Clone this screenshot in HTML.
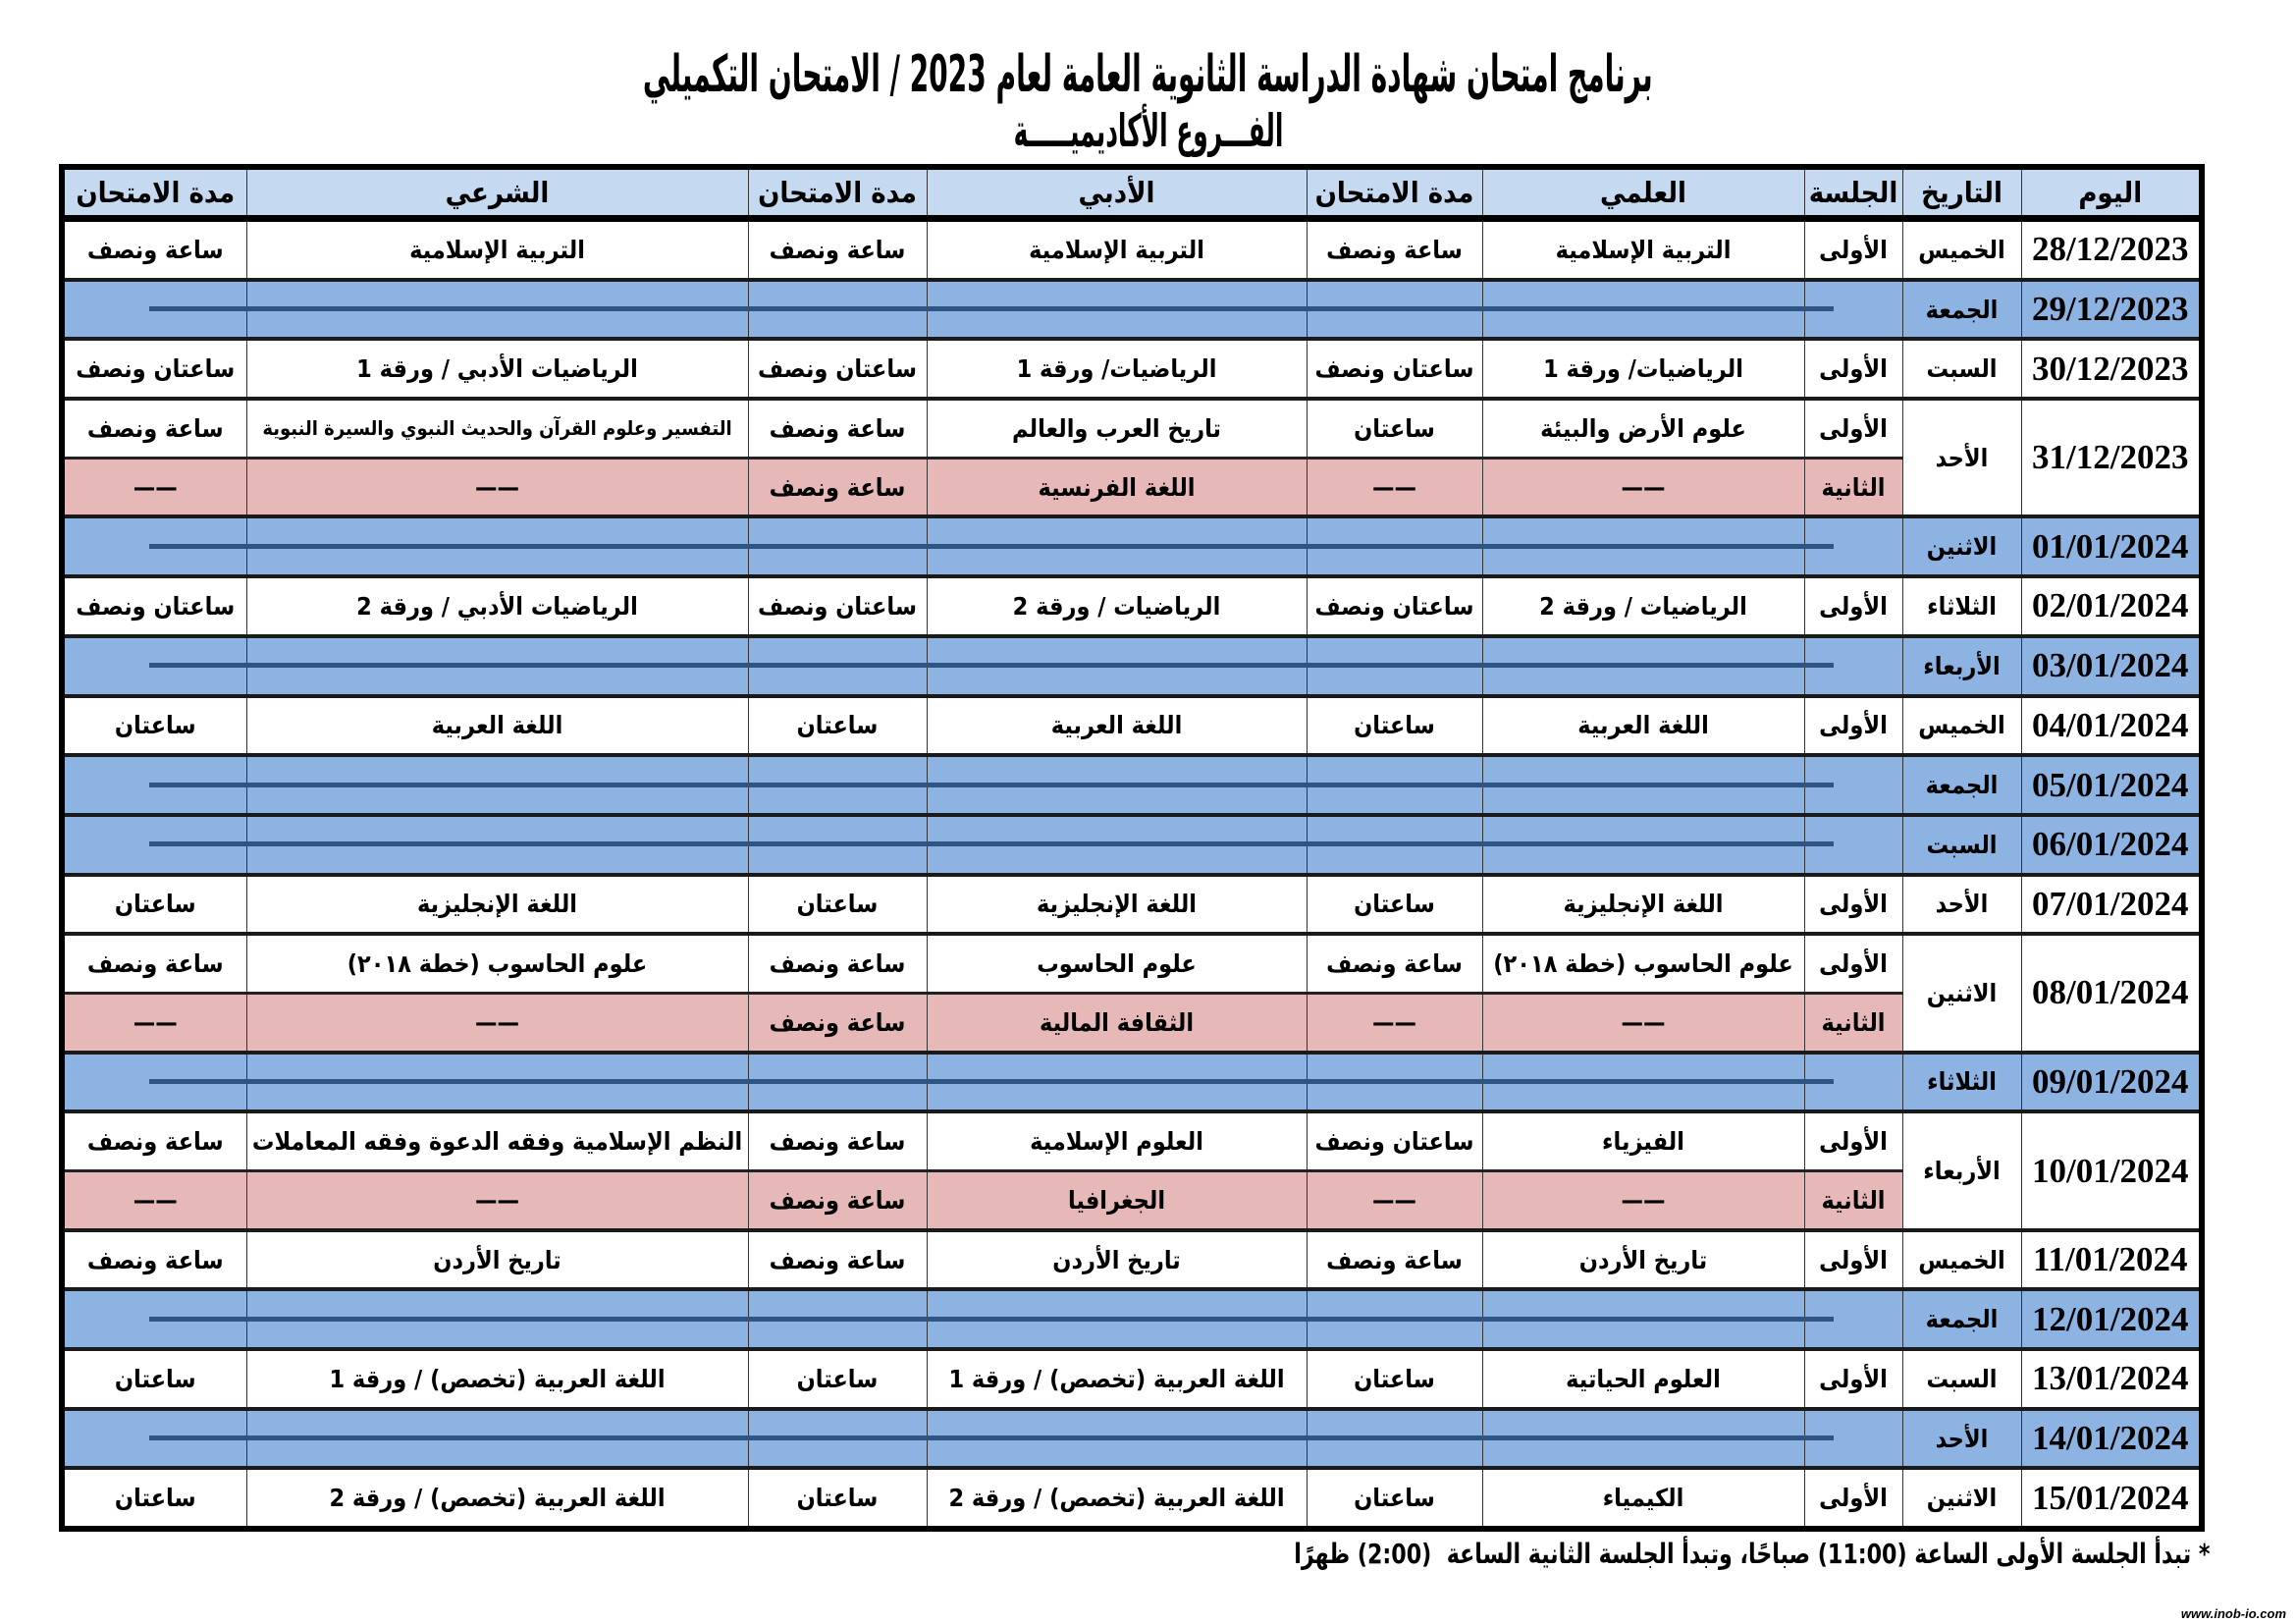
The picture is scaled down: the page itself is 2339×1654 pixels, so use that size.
<!DOCTYPE html>
<html><head><meta charset="utf-8">
<style>
body{margin:0;background:#fff;width:2339px;height:1654px;position:relative;overflow:hidden;font-family:"DejaVu Sans",sans-serif;}
.t1{position:absolute;left:0;width:2339px;top:46px;text-align:center;font-size:52px;font-weight:bold;font-family:"DejaVu Sans Condensed","DejaVu Sans",sans-serif;direction:rtl;}
.t2{position:absolute;left:0;width:2339px;top:106px;text-align:center;font-size:46px;font-weight:bold;font-family:"DejaVu Sans Condensed","DejaVu Sans",sans-serif;direction:rtl;}
.t1 span,.t2 span{display:inline-block;transform:scaleX(0.6);}
table{position:absolute;left:60px;top:167px;width:2180px;border-collapse:collapse;table-layout:fixed;direction:rtl;border:6px solid #000;}
td{border:1px solid #333;text-align:center;vertical-align:middle;font-weight:bold;font-size:25px;height:56.7px;padding:0;font-family:"DejaVu Sans Condensed","DejaVu Sans",sans-serif;white-space:nowrap;overflow:visible;}
tr{border-bottom:4px solid #1a1a1a;}
tr.h td{background:#c5d9f1;font-size:29px;height:46px;}
tr.h{border-bottom:7px solid #000;}
tr.b td{background:#8db3e2;}
tr.p{border-bottom:3px solid #222;}
td.d{font-family:"Liberation Serif",serif;font-size:35px;}
td.s{position:relative;}
.ln{position:absolute;right:70px;top:50%;margin-top:-3px;width:1716px;height:5px;background:#2e5583;z-index:2;}
.sm{font-size:20px;}
.foot{position:absolute;right:88px;top:1566px;font-size:28px;font-weight:bold;direction:rtl;font-family:"DejaVu Sans Condensed","DejaVu Sans",sans-serif;transform:scaleX(0.88);transform-origin:right center;}
.wm{position:absolute;right:10px;top:1636px;font-size:13px;font-style:italic;font-weight:bold;font-family:"Liberation Sans",sans-serif;}
</style></head><body>
<div class="t1"><span>برنامج امتحان شهادة الدراسة الثانوية العامة لعام 2023 / الامتحان التكميلي</span></div>
<div class="t2"><span>الفـــروع الأكاديميـــــة</span></div>
<table>
<colgroup><col style="width:184px"><col style="width:121px"><col style="width:100px"><col style="width:328px"><col style="width:179px"><col style="width:387px"><col style="width:182px"><col style="width:511px"><col style="width:188px"></colgroup>
<tr class="h"><td>اليوم</td><td>التاريخ</td><td>الجلسة</td><td>العلمي</td><td>مدة الامتحان</td><td>الأدبي</td><td>مدة الامتحان</td><td>الشرعي</td><td>مدة الامتحان</td></tr>
<tr><td class="d">28/12/2023</td><td>الخميس</td><td>الأولى</td><td>التربية الإسلامية</td><td>ساعة ونصف</td><td>التربية الإسلامية</td><td>ساعة ونصف</td><td>التربية الإسلامية</td><td>ساعة ونصف</td></tr>
<tr class="b"><td class="d">29/12/2023</td><td>الجمعة</td><td class="s"><div class="ln"></div></td><td></td><td></td><td></td><td></td><td></td><td></td></tr>
<tr><td class="d">30/12/2023</td><td>السبت</td><td>الأولى</td><td>الرياضيات/ ورقة 1</td><td>ساعتان ونصف</td><td>الرياضيات/ ورقة 1</td><td>ساعتان ونصف</td><td>الرياضيات الأدبي / ورقة 1</td><td>ساعتان ونصف</td></tr>
<tr class="p"><td class="d" rowspan="2">31/12/2023</td><td rowspan="2">الأحد</td><td>الأولى</td><td>علوم الأرض والبيئة</td><td>ساعتان</td><td>تاريخ العرب والعالم</td><td>ساعة ونصف</td><td class="sm">التفسير وعلوم القرآن والحديث النبوي والسيرة النبوية</td><td>ساعة ونصف</td></tr>
<tr><td style="background:#e6b8b7">الثانية</td><td style="background:#e6b8b7">——</td><td style="background:#e6b8b7">——</td><td style="background:#e6b8b7">اللغة الفرنسية</td><td style="background:#e6b8b7">ساعة ونصف</td><td style="background:#e6b8b7">——</td><td style="background:#e6b8b7">——</td></tr>
<tr class="b"><td class="d">01/01/2024</td><td>الاثنين</td><td class="s"><div class="ln"></div></td><td></td><td></td><td></td><td></td><td></td><td></td></tr>
<tr><td class="d">02/01/2024</td><td>الثلاثاء</td><td>الأولى</td><td>الرياضيات / ورقة 2</td><td>ساعتان ونصف</td><td>الرياضيات / ورقة 2</td><td>ساعتان ونصف</td><td>الرياضيات الأدبي / ورقة 2</td><td>ساعتان ونصف</td></tr>
<tr class="b"><td class="d">03/01/2024</td><td>الأربعاء</td><td class="s"><div class="ln"></div></td><td></td><td></td><td></td><td></td><td></td><td></td></tr>
<tr><td class="d">04/01/2024</td><td>الخميس</td><td>الأولى</td><td>اللغة العربية</td><td>ساعتان</td><td>اللغة العربية</td><td>ساعتان</td><td>اللغة العربية</td><td>ساعتان</td></tr>
<tr class="b"><td class="d">05/01/2024</td><td>الجمعة</td><td class="s"><div class="ln"></div></td><td></td><td></td><td></td><td></td><td></td><td></td></tr>
<tr class="b"><td class="d">06/01/2024</td><td>السبت</td><td class="s"><div class="ln"></div></td><td></td><td></td><td></td><td></td><td></td><td></td></tr>
<tr><td class="d">07/01/2024</td><td>الأحد</td><td>الأولى</td><td>اللغة الإنجليزية</td><td>ساعتان</td><td>اللغة الإنجليزية</td><td>ساعتان</td><td>اللغة الإنجليزية</td><td>ساعتان</td></tr>
<tr class="p"><td class="d" rowspan="2">08/01/2024</td><td rowspan="2">الاثنين</td><td>الأولى</td><td>علوم الحاسوب (خطة ٢٠١٨)</td><td>ساعة ونصف</td><td>علوم الحاسوب</td><td>ساعة ونصف</td><td>علوم الحاسوب (خطة ٢٠١٨)</td><td>ساعة ونصف</td></tr>
<tr><td style="background:#e6b8b7">الثانية</td><td style="background:#e6b8b7">——</td><td style="background:#e6b8b7">——</td><td style="background:#e6b8b7">الثقافة المالية</td><td style="background:#e6b8b7">ساعة ونصف</td><td style="background:#e6b8b7">——</td><td style="background:#e6b8b7">——</td></tr>
<tr class="b"><td class="d">09/01/2024</td><td>الثلاثاء</td><td class="s"><div class="ln"></div></td><td></td><td></td><td></td><td></td><td></td><td></td></tr>
<tr class="p"><td class="d" rowspan="2">10/01/2024</td><td rowspan="2">الأربعاء</td><td>الأولى</td><td>الفيزياء</td><td>ساعتان ونصف</td><td>العلوم الإسلامية</td><td>ساعة ونصف</td><td>النظم الإسلامية وفقه الدعوة وفقه المعاملات</td><td>ساعة ونصف</td></tr>
<tr><td style="background:#e6b8b7">الثانية</td><td style="background:#e6b8b7">——</td><td style="background:#e6b8b7">——</td><td style="background:#e6b8b7">الجغرافيا</td><td style="background:#e6b8b7">ساعة ونصف</td><td style="background:#e6b8b7">——</td><td style="background:#e6b8b7">——</td></tr>
<tr><td class="d">11/01/2024</td><td>الخميس</td><td>الأولى</td><td>تاريخ الأردن</td><td>ساعة ونصف</td><td>تاريخ الأردن</td><td>ساعة ونصف</td><td>تاريخ الأردن</td><td>ساعة ونصف</td></tr>
<tr class="b"><td class="d">12/01/2024</td><td>الجمعة</td><td class="s"><div class="ln"></div></td><td></td><td></td><td></td><td></td><td></td><td></td></tr>
<tr><td class="d">13/01/2024</td><td>السبت</td><td>الأولى</td><td>العلوم الحياتية</td><td>ساعتان</td><td>اللغة العربية (تخصص) / ورقة 1</td><td>ساعتان</td><td>اللغة العربية (تخصص) / ورقة 1</td><td>ساعتان</td></tr>
<tr class="b"><td class="d">14/01/2024</td><td>الأحد</td><td class="s"><div class="ln"></div></td><td></td><td></td><td></td><td></td><td></td><td></td></tr>
<tr><td class="d">15/01/2024</td><td>الاثنين</td><td>الأولى</td><td>الكيمياء</td><td>ساعتان</td><td>اللغة العربية (تخصص) / ورقة 2</td><td>ساعتان</td><td>اللغة العربية (تخصص) / ورقة 2</td><td>ساعتان</td></tr>
</table>
<div class="foot">* تبدأ الجلسة الأولى الساعة (11:00) صباحًا، وتبدأ الجلسة الثانية الساعة &nbsp;(2:00) ظهرًا</div>
<div class="wm">www.inob-io.com</div>
</body></html>
